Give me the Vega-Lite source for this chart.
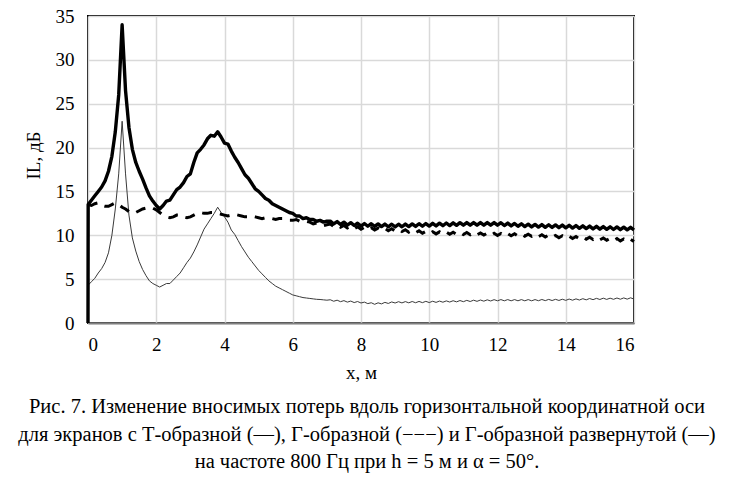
{
  "$schema": "https://vega.github.io/schema/vega-lite/v6.json",
  "width": 546,
  "height": 307,
  "autosize": "none",
  "padding": {"left": 88, "top": 16, "right": 96, "bottom": 163},
  "background": "white",
  "config": {
    "view": {"stroke": "black", "strokeWidth": 2},
    "font": "Liberation Serif"
  },
  "title": {
    "text": [
      "Рис. 7.  Изменение вносимых потерь вдоль горизонтальной координатной оси",
      "для экранов с Т-образной (—), Г-образной (−−−) и Г-образной развернутой (—)",
      "на частоте 800 Гц при h = 5 м и α = 50°."
    ],
    "orient": "bottom",
    "anchor": "middle",
    "dx": 6,
    "offset": 15,
    "font": "Liberation Serif",
    "fontSize": 20.5,
    "fontWeight": "normal",
    "lineHeight": 27.5,
    "color": "black"
  },
  "data": {
    "values": [
      {"x": 0, "t": 0, "d": 13.5, "n": 4.3},
      {"x": 0.005, "t": 13.5},
      {"x": 0.1, "t": 14.0, "d": 13.4, "n": 4.7},
      {"x": 0.2, "t": 14.5, "d": 13.6, "n": 5.1},
      {"x": 0.3, "t": 15.0, "d": 13.7, "n": 5.7},
      {"x": 0.4, "t": 15.5, "d": 13.4, "n": 6.2},
      {"x": 0.5, "t": 16.2, "d": 13.3, "n": 6.9},
      {"x": 0.6, "t": 17.3, "d": 13.3, "n": 8.0},
      {"x": 0.7, "t": 19.0, "d": 13.5, "n": 10.0},
      {"x": 0.8, "t": 21.8, "d": 13.7, "n": 13.0},
      {"x": 0.9, "t": 26.0, "d": 13.5, "n": 17.0},
      {"x": 1.0, "t": 34.0, "d": 13.2, "n": 23.0},
      {"x": 1.1, "t": 26.5, "d": 13.0, "n": 17.0},
      {"x": 1.2, "t": 22.3, "d": 12.7, "n": 12.3},
      {"x": 1.3, "t": 19.8, "d": 12.5, "n": 9.7},
      {"x": 1.4, "t": 18.3, "d": 12.6, "n": 8.2},
      {"x": 1.5, "t": 17.3, "d": 12.8, "n": 7.0},
      {"x": 1.6, "t": 16.4, "d": 13.0, "n": 6.1},
      {"x": 1.7, "t": 15.4, "d": 13.1, "n": 5.4},
      {"x": 1.8, "t": 14.5, "d": 13.2, "n": 4.8},
      {"x": 1.9, "t": 13.9, "d": 13.1, "n": 4.5},
      {"x": 2.0, "t": 13.4, "d": 12.9, "n": 4.3},
      {"x": 2.1, "t": 13.0, "d": 12.6, "n": 4.1},
      {"x": 2.2, "t": 13.4, "d": 12.3, "n": 4.3},
      {"x": 2.3, "t": 13.9, "d": 12.1, "n": 4.5},
      {"x": 2.4, "t": 14.0, "d": 12.0, "n": 4.5},
      {"x": 2.5, "t": 14.6, "d": 12.1, "n": 4.9},
      {"x": 2.6, "t": 15.2, "d": 12.3, "n": 5.3},
      {"x": 2.7, "t": 15.5, "d": 12.3, "n": 5.7},
      {"x": 2.8, "t": 16.0, "d": 12.1, "n": 6.3},
      {"x": 2.9, "t": 16.7, "d": 12.0, "n": 6.9},
      {"x": 3.0, "t": 17.0, "d": 12.1, "n": 7.4},
      {"x": 3.1, "t": 18.3, "d": 12.3, "n": 8.1},
      {"x": 3.2, "t": 19.4, "d": 12.5, "n": 8.9},
      {"x": 3.3, "t": 19.8, "d": 12.6, "n": 9.8},
      {"x": 3.4, "t": 20.3, "d": 12.5, "n": 10.7},
      {"x": 3.5, "t": 21.0, "d": 12.5, "n": 11.3},
      {"x": 3.6, "t": 21.4, "d": 12.6, "n": 11.9},
      {"x": 3.7, "t": 21.3, "d": 12.6, "n": 12.5},
      {"x": 3.8, "t": 21.8, "d": 12.5, "n": 13.2},
      {"x": 3.9, "t": 21.2, "d": 12.4, "n": 12.6},
      {"x": 4.0, "t": 20.5, "d": 12.3, "n": 12.1},
      {"x": 4.1, "t": 20.4, "d": 12.2, "n": 11.5},
      {"x": 4.2, "t": 19.6, "d": 12.3, "n": 10.6},
      {"x": 4.3, "t": 18.9, "d": 12.4, "n": 10.1},
      {"x": 4.4, "t": 18.3, "d": 12.3, "n": 9.4},
      {"x": 4.5, "t": 17.6, "d": 12.2, "n": 8.7},
      {"x": 4.6, "t": 16.9, "d": 12.1, "n": 8.1},
      {"x": 4.7, "t": 16.5, "d": 12.1, "n": 7.5},
      {"x": 4.8, "t": 15.9, "d": 12.2, "n": 7.0},
      {"x": 4.9, "t": 15.3, "d": 12.1, "n": 6.5},
      {"x": 5.0, "t": 15.0, "d": 12.0, "n": 6.0},
      {"x": 5.1, "t": 14.6, "d": 11.9, "n": 5.6},
      {"x": 5.2, "t": 14.2, "d": 12.0, "n": 5.2},
      {"x": 5.3, "t": 14.0, "d": 12.0, "n": 4.8},
      {"x": 5.4, "t": 13.6, "d": 11.9, "n": 4.5},
      {"x": 5.5, "t": 13.4, "d": 11.8, "n": 4.2},
      {"x": 5.6, "t": 13.2, "d": 11.9, "n": 4.0},
      {"x": 5.7, "t": 13.0, "d": 11.9, "n": 3.8},
      {"x": 5.8, "t": 12.8, "d": 11.8, "n": 3.6},
      {"x": 5.9, "t": 12.6, "d": 11.7, "n": 3.4},
      {"x": 6.0, "t": 12.5, "d": 11.7, "n": 3.2},
      {"x": 6.1, "t": 12.2, "d": 11.8, "n": 3.1},
      {"x": 6.2, "t": 12.2, "d": 11.6, "n": 3.0},
      {"x": 6.3, "t": 11.9, "d": 11.5, "n": 2.9},
      {"x": 6.4, "t": 12.0, "d": 11.6, "n": 2.85},
      {"x": 6.5, "t": 11.8, "d": 11.5, "n": 2.8},
      {"x": 6.6, "t": 11.8, "d": 11.3, "n": 2.75},
      {"x": 6.7, "t": 11.6, "d": 11.4, "n": 2.7},
      {"x": 6.8, "t": 11.7, "d": 11.3, "n": 2.68},
      {"x": 6.9, "t": 11.5, "d": 11.1, "n": 2.64},
      {"x": 7.0, "t": 11.6, "d": 11.2, "n": 2.6},
      {"x": 7.1, "t": 11.62, "d": 11.28, "n": 2.65},
      {"x": 7.2, "t": 11.29, "d": 11.0, "n": 2.48},
      {"x": 7.3, "t": 11.56, "d": 11.2, "n": 2.6},
      {"x": 7.4, "t": 11.23, "d": 10.92, "n": 2.43},
      {"x": 7.5, "t": 11.5, "d": 11.12, "n": 2.55},
      {"x": 7.6, "t": 11.17, "d": 10.84, "n": 2.38},
      {"x": 7.7, "t": 11.44, "d": 11.04, "n": 2.5},
      {"x": 7.8, "t": 11.11, "d": 10.76, "n": 2.33},
      {"x": 7.9, "t": 11.38, "d": 10.96, "n": 2.45},
      {"x": 8.0, "t": 11.05, "d": 10.68, "n": 2.28},
      {"x": 8.1, "t": 11.34, "d": 10.9, "n": 2.38},
      {"x": 8.2, "t": 11.03, "d": 10.64, "n": 2.21},
      {"x": 8.3, "t": 11.32, "d": 10.86, "n": 2.31},
      {"x": 8.4, "t": 11.01, "d": 10.6, "n": 2.13},
      {"x": 8.5, "t": 11.3, "d": 10.82, "n": 2.3},
      {"x": 8.6, "t": 10.99, "d": 10.56, "n": 2.18},
      {"x": 8.7, "t": 11.28, "d": 10.78, "n": 2.35},
      {"x": 8.8, "t": 10.97, "d": 10.52, "n": 2.23},
      {"x": 8.9, "t": 11.26, "d": 10.74, "n": 2.4},
      {"x": 9.0, "t": 10.95, "d": 10.48, "n": 2.28},
      {"x": 9.1, "t": 11.26, "d": 10.69, "n": 2.43},
      {"x": 9.2, "t": 10.97, "d": 10.42, "n": 2.29},
      {"x": 9.3, "t": 11.28, "d": 10.63, "n": 2.44},
      {"x": 9.4, "t": 10.99, "d": 10.36, "n": 2.3},
      {"x": 9.5, "t": 11.3, "d": 10.57, "n": 2.45},
      {"x": 9.6, "t": 11.01, "d": 10.3, "n": 2.31},
      {"x": 9.7, "t": 11.32, "d": 10.51, "n": 2.46},
      {"x": 9.8, "t": 11.03, "d": 10.24, "n": 2.32},
      {"x": 9.9, "t": 11.34, "d": 10.45, "n": 2.47},
      {"x": 10.0, "t": 11.05, "d": 10.18, "n": 2.33},
      {"x": 10.1, "t": 11.36, "d": 10.41, "n": 2.48},
      {"x": 10.2, "t": 11.07, "d": 10.16, "n": 2.35},
      {"x": 10.3, "t": 11.38, "d": 10.39, "n": 2.5},
      {"x": 10.4, "t": 11.09, "d": 10.14, "n": 2.37},
      {"x": 10.5, "t": 11.4, "d": 10.37, "n": 2.52},
      {"x": 10.6, "t": 11.11, "d": 10.12, "n": 2.39},
      {"x": 10.7, "t": 11.42, "d": 10.35, "n": 2.54},
      {"x": 10.8, "t": 11.13, "d": 10.1, "n": 2.41},
      {"x": 10.9, "t": 11.44, "d": 10.33, "n": 2.56},
      {"x": 11.0, "t": 11.15, "d": 10.08, "n": 2.43},
      {"x": 11.1, "t": 11.45, "d": 10.31, "n": 2.58},
      {"x": 11.2, "t": 11.15, "d": 10.06, "n": 2.45},
      {"x": 11.3, "t": 11.45, "d": 10.29, "n": 2.6},
      {"x": 11.4, "t": 11.15, "d": 10.04, "n": 2.47},
      {"x": 11.5, "t": 11.45, "d": 10.27, "n": 2.62},
      {"x": 11.6, "t": 11.15, "d": 10.02, "n": 2.49},
      {"x": 11.7, "t": 11.45, "d": 10.25, "n": 2.64},
      {"x": 11.8, "t": 11.15, "d": 10.0, "n": 2.51},
      {"x": 11.9, "t": 11.45, "d": 10.23, "n": 2.66},
      {"x": 12.0, "t": 11.15, "d": 9.98, "n": 2.53},
      {"x": 12.1, "t": 11.43, "d": 10.21, "n": 2.67},
      {"x": 12.2, "t": 11.11, "d": 9.96, "n": 2.53},
      {"x": 12.3, "t": 11.39, "d": 10.19, "n": 2.67},
      {"x": 12.4, "t": 11.07, "d": 9.94, "n": 2.53},
      {"x": 12.5, "t": 11.35, "d": 10.17, "n": 2.67},
      {"x": 12.6, "t": 11.03, "d": 9.92, "n": 2.53},
      {"x": 12.7, "t": 11.31, "d": 10.15, "n": 2.67},
      {"x": 12.8, "t": 10.99, "d": 9.9, "n": 2.53},
      {"x": 12.9, "t": 11.27, "d": 10.13, "n": 2.67},
      {"x": 13.0, "t": 10.95, "d": 9.88, "n": 2.53},
      {"x": 13.1, "t": 11.24, "d": 10.1, "n": 2.67},
      {"x": 13.2, "t": 10.93, "d": 9.84, "n": 2.54},
      {"x": 13.3, "t": 11.22, "d": 10.06, "n": 2.68},
      {"x": 13.4, "t": 10.91, "d": 9.8, "n": 2.55},
      {"x": 13.5, "t": 11.2, "d": 10.02, "n": 2.69},
      {"x": 13.6, "t": 10.89, "d": 9.76, "n": 2.56},
      {"x": 13.7, "t": 11.18, "d": 9.98, "n": 2.7},
      {"x": 13.8, "t": 10.87, "d": 9.72, "n": 2.57},
      {"x": 13.9, "t": 11.16, "d": 9.94, "n": 2.71},
      {"x": 14.0, "t": 10.85, "d": 9.68, "n": 2.58},
      {"x": 14.1, "t": 11.14, "d": 9.9, "n": 2.73},
      {"x": 14.2, "t": 10.82, "d": 9.64, "n": 2.6},
      {"x": 14.3, "t": 11.11, "d": 9.86, "n": 2.75},
      {"x": 14.4, "t": 10.79, "d": 9.6, "n": 2.62},
      {"x": 14.5, "t": 11.08, "d": 9.82, "n": 2.77},
      {"x": 14.6, "t": 10.76, "d": 9.56, "n": 2.64},
      {"x": 14.7, "t": 11.05, "d": 9.78, "n": 2.79},
      {"x": 14.8, "t": 10.73, "d": 9.52, "n": 2.66},
      {"x": 14.9, "t": 11.02, "d": 9.74, "n": 2.81},
      {"x": 15.0, "t": 10.7, "d": 9.48, "n": 2.68},
      {"x": 15.1, "t": 10.99, "d": 9.7, "n": 2.83},
      {"x": 15.2, "t": 10.68, "d": 9.44, "n": 2.69},
      {"x": 15.3, "t": 10.97, "d": 9.66, "n": 2.83},
      {"x": 15.4, "t": 10.66, "d": 9.4, "n": 2.7},
      {"x": 15.5, "t": 10.95, "d": 9.62, "n": 2.85},
      {"x": 15.6, "t": 10.64, "d": 9.36, "n": 2.71},
      {"x": 15.7, "t": 10.93, "d": 9.58, "n": 2.86},
      {"x": 15.8, "t": 10.62, "d": 9.32, "n": 2.72},
      {"x": 15.9, "t": 10.91, "d": 9.54, "n": 2.87},
      {"x": 16.0, "t": 10.6, "d": 9.28, "n": 2.73}
    ]
  },
  "transform": [
    {"fold": ["t", "d", "n"], "as": ["series", "IL"]},
    {"filter": "datum.IL != null"}
  ],
  "encoding": {
    "x": {
      "field": "x",
      "type": "quantitative",
      "scale": {"domain": [0, 16], "nice": false},
      "axis": {
        "values": [0, 2, 4, 6, 8, 10, 12, 14, 16],
        "title": "x, м",
        "grid": true,
        "gridColor": "#d9d9d9",
        "gridWidth": 1.5,
        "domainColor": "#808080",
        "domainWidth": 2,
        "ticks": false,
        "labelFont": "Liberation Serif",
        "labelFontSize": 19,
        "labelColor": "black",
        "labelPadding": 12,
        "titleFont": "Liberation Serif",
        "titleFontSize": 19,
        "titleFontWeight": "normal",
        "titleColor": "black",
        "titlePadding": 9
      }
    },
    "y": {
      "field": "IL",
      "type": "quantitative",
      "scale": {"domain": [0, 35], "nice": false},
      "axis": {
        "values": [0, 5, 10, 15, 20, 25, 30, 35],
        "title": "IL, дБ",
        "grid": true,
        "gridColor": "#d9d9d9",
        "gridWidth": 1.5,
        "domain": false,
        "ticks": false,
        "labelFont": "Liberation Serif",
        "labelFontSize": 19,
        "labelColor": "black",
        "labelPadding": 14,
        "titleFont": "Liberation Serif",
        "titleFontSize": 19,
        "titleFontWeight": "normal",
        "titleColor": "black",
        "titlePadding": 12,
        "titleY": 139
      }
    }
  },
  "layer": [
    {
      "transform": [{"filter": "datum.series == 'n'"}],
      "mark": {"type": "line", "color": "#3a3a3a", "strokeWidth": 1}
    },
    {
      "transform": [{"filter": "datum.series == 'd'"}],
      "mark": {"type": "line", "color": "black", "strokeWidth": 3, "strokeDash": [10, 8]}
    },
    {
      "transform": [{"filter": "datum.series == 't'"}],
      "mark": {"type": "line", "color": "black", "strokeWidth": 3.4, "strokeJoin": "round"}
    }
  ]
}
